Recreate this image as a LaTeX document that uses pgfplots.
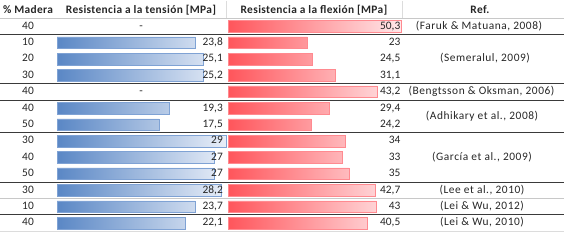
\documentclass[border=0pt]{standalone}
\usepackage{pgfplots}
\pgfplotsset{compat=1.18}
\usepackage{fontspec}
\setmainfont{Carlito}
\newfontfamily\reffont[LetterSpace=4.8]{Carlito}
\newfontfamily\hdrfont[LetterSpace=3.2]{Carlito}
\definecolor{txt}{HTML}{262626}
\definecolor{blueL}{HTML}{5A87C5}
\definecolor{blueR}{HTML}{E8EEF8}
\definecolor{blueB}{HTML}{7FA2D4}
\definecolor{redL}{HTML}{FF555B}
\definecolor{redR}{HTML}{FFE8EA}
\definecolor{redB}{HTML}{FF8A90}
\definecolor{darkline}{HTML}{3A3A3A}
\definecolor{greyline}{HTML}{C8C8C8}
\definecolor{faint}{HTML}{DCDCDC}
\begin{document}
\begin{tikzpicture}[font=\fontsize{11.4}{13}\selectfont, text=txt]
% tension bars
\begin{axis}[at={(57pt,8.8pt)}, anchor=south west, scale only axis,
  width=174.6pt, height=213.2pt, xmin=0, xmax=30, ymin=0.5, ymax=13.5,
  y dir=reverse, hide axis, enlargelimits=false, clip=false]
\addplot[xbar, bar width=11.6pt, draw=blueB, line width=0.5pt, left color=blueL, right color=blueR]
  coordinates {(23.8,2) (25.1,3) (25.2,4) (19.3,6) (17.5,7) (29,8) (27,9) (27,10) (28.2,11) (23.7,12) (22.1,13)};
\end{axis}
% flexion bars
\begin{axis}[at={(228pt,8.8pt)}, anchor=south west, scale only axis,
  width=179.4pt, height=213.2pt, xmin=0, xmax=52, ymin=0.5, ymax=13.5,
  y dir=reverse, hide axis, enlargelimits=false, clip=false]
\addplot[xbar, bar width=11.6pt, draw=redB, line width=0.5pt, left color=redL, right color=redR]
  coordinates {(50.3,1) (23,2) (24.5,3) (31.1,4) (43.2,5) (29.4,6) (24.2,7) (34,8) (33,9) (35,10) (42.7,11) (43,12) (40.5,13)};
\end{axis}
\begin{scope}[x=1pt, y=-16.4pt, shift={(0pt,230.2pt)},
  nodes={text height=1.55ex, text depth=0.35ex, inner sep=0pt}]
% header
\draw[faint, line width=0.5pt] (226,-0.55) -- (226,0.5);
\draw[faint, line width=0.5pt] (402,-0.55) -- (402,0.5);
\begin{scope}[nodes={font=\fontsize{11.4}{13}\hdrfont\bfseries}]
\node at (28,0.05) {\% Madera};
\node at (141,0.05) {Resistencia a la tensión [MPa]};
\node at (314,0.05) {Resistencia a la flexión [MPa]};
\node at (480,0.05) {Ref.};
\end{scope}
% lines
\draw[greyline, line width=0.7pt] (0,0.5) -- (564,0.5);
\foreach \k in {1.5,4.5,5.5,7.5,10.5,12.5} \draw[darkline, line width=0.9pt] (0,\k) -- (564,\k);
\draw[greyline, line width=0.9pt] (0,11.5) -- (564,11.5);
\draw[faint, line width=0.7pt] (0,13.5) -- (564,13.5);
% madera
\foreach \r/\m in {1/40,2/10,3/20,4/30,5/40,6/40,7/50,8/30,9/40,10/50,11/30,12/10,13/40}
  \node at (28,\r) {\m};
% tension labels
\node at (141,1) {-};
\node at (141,5) {-};
\foreach \r/\v in {2/{23,8},3/{25,1},4/{25,2},6/{19,3},7/{17,5},8/{29},9/{27},10/{27},11/{28,2},12/{23,7},13/{22,1}}
  \node[anchor=east] at (223,\r) {\v};
% flexion labels
\foreach \r/\v in {1/{50,3},2/{23},3/{24,5},4/{31,1},5/{43,2},6/{29,4},7/{24,2},8/{34},9/{33},10/{35},11/{42,7},12/{43},13/{40,5}}
  \node[anchor=east] at (400.5,\r) {\v};
% references
\begin{scope}[nodes={font=\fontsize{11.4}{13}\reffont}]
\node at (479,1) {(Faruk \& Matuana, 2008)};
\node at (485,3) {(Semeralul, 2009)};
\node at (481.5,5) {(Bengtsson \& Oksman, 2006)};
\node at (482,6.5) {(Adhikary et al., 2008)};
\node at (482,9) {(García et al., 2009)};
\node at (482,11) {(Lee et al., 2010)};
\node at (482,12) {(Lei \& Wu, 2012)};
\node at (482,13) {(Lei \& Wu, 2010)};
\end{scope}
\end{scope}
\pgfresetboundingbox
\useasboundingbox (0,0) rectangle (567pt,240pt);
\end{tikzpicture}
\end{document}
